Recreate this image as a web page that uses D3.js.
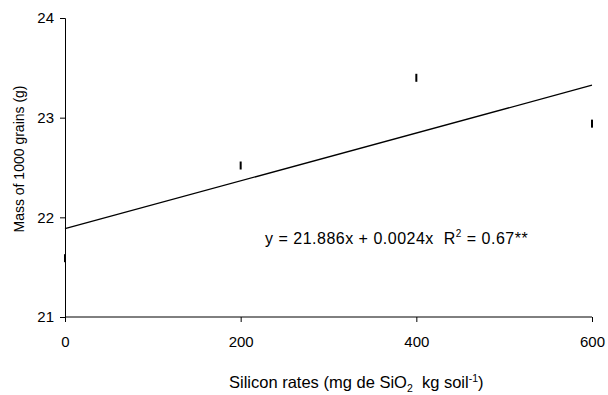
<!DOCTYPE html>
<html><head><meta charset="utf-8">
<script src="https://cdn.jsdelivr.net/npm/d3@7"></script>
<style>body{margin:0;background:#fff}text{font-family:"Liberation Sans",Arial,sans-serif;fill:#000;white-space:pre}</style>
</head><body><svg id="c" width="608" height="395"></svg>
<script>
const rates = [0, 200, 400, 600];
const mass = [21.59, 22.52, 23.40, 22.94];
const xTicks = [0, 200, 400, 600];
const yTicks = [21, 22, 23, 24];
const intercept = 21.886, slope = 0.0024;

const svg = d3.select("#c");
const x = d3.scaleLinear().domain([0, 600]).range([65, 592]);
const y = d3.scaleLinear().domain([21, 24]).range([317, 18]);

const gx = svg.append("g").attr("transform", "translate(0,317)")
  .call(d3.axisBottom(x).tickValues(xTicks).tickSize(5).tickPadding(14).tickFormat(d3.format("d")));
const gy = svg.append("g").attr("transform", "translate(65,0)")
  .call(d3.axisLeft(y).tickValues(yTicks).tickSize(5).tickPadding(6).tickFormat(d3.format("d")));
[gx, gy].forEach(g => {
  g.select(".domain").attr("stroke", "#000").attr("stroke-width", 1);
  g.selectAll(".tick line").attr("stroke", "#000");
  g.selectAll("text").style("font-size", "15px").attr("font-family", null);
});
gx.select(".domain").attr("d", "M65,0H592");

svg.append("line")
  .attr("x1", x(0)).attr("y1", y(intercept))
  .attr("x2", x(600)).attr("y2", y(intercept + slope * 600))
  .attr("stroke", "#000").attr("stroke-width", 1.3);

svg.selectAll("rect.pt").data(rates).enter().append("rect")
  .attr("class", "pt")
  .attr("x", d => x(d) - 1).attr("width", 2)
  .attr("y", (d, i) => y(mass[i]) - 4).attr("height", 8)
  .attr("fill", "#000");

const eq = svg.append("text").attr("x", 265).attr("y", 244).style("font-size", "16px").style("letter-spacing", "0.5px");
eq.append("tspan").text("y = 21.886x + 0.0024x  R");
eq.append("tspan").attr("dy", -7).style("font-size", "10px").text("2");
eq.append("tspan").attr("dy", 7).text(" = 0.67**");

const xt = svg.append("text").attr("x", 229).attr("y", 388).style("font-size", "16.5px");
xt.append("tspan").text("Silicon rates (mg de SiO");
xt.append("tspan").attr("dy", 4).style("font-size", "10.5px").text("2");
xt.append("tspan").attr("dy", -4).text("  kg soil");
xt.append("tspan").attr("dy", -6).style("font-size", "10.5px").text("-1");
xt.append("tspan").attr("dy", 6).text(")");

svg.append("text").attr("transform", "translate(24,159) rotate(-90)")
  .attr("text-anchor", "middle").style("font-size", "14px")
  .text("Mass of 1000 grains (g)");
</script></body></html>
